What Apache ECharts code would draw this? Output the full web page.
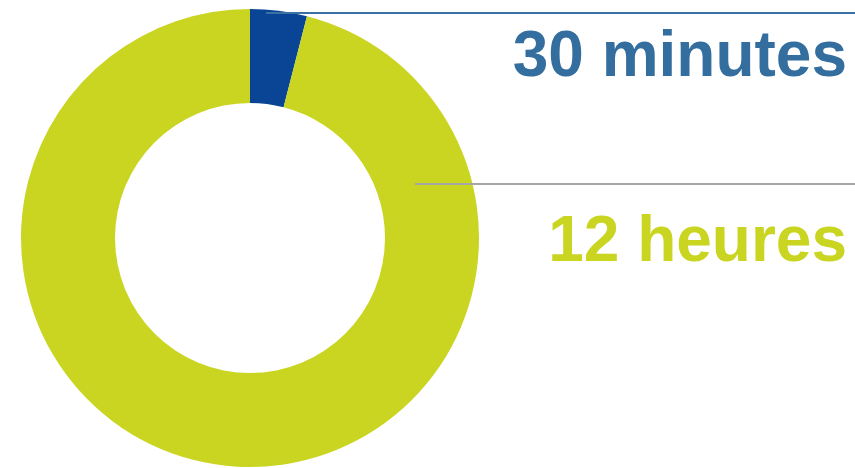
<!DOCTYPE html>
<html>
<head>
<meta charset="utf-8">
<style>
  html, body { margin: 0; padding: 0; background: #ffffff; }
  #chart { width: 855px; height: 468px; }
</style>
<script src="https://cdn.jsdelivr.net/npm/echarts@6/dist/echarts.min.js"></script>
</head>
<body>
<div id="chart"></div>
<script>
// Durations in minutes and their display labels
const labels = ['30 minutes', '12 heures'];
const minutes = [30, 720];
const sliceColors = ['#0a4595', '#c9d521'];
const textColors = ['#336e9f', '#c9d521'];
const leaderColors = ['#3a71a3', '#a6a6a6'];

// Leader lines (drawn above the ring) and label anchors (right-aligned text)
const leaderPaths = [
  [[266, 13], [855, 13]],
  [[415, 184], [855, 184]]
];
const labelAnchors = [[847, 58], [847, 243]];

const chart = echarts.init(document.getElementById('chart'), null, { renderer: 'canvas' });

chart.setOption({
  animation: false,
  graphic: leaderPaths.map(function (pts, i) {
    return {
      type: 'polyline',
      z: 100,
      silent: true,
      shape: { points: pts },
      style: { stroke: leaderColors[i], lineWidth: 2, fill: null }
    };
  }),
  series: [{
    type: 'pie',
    center: [250, 238],
    radius: [135, 229],
    startAngle: 90,
    clockwise: true,
    silent: true,
    avoidLabelOverlap: false,
    itemStyle: { borderWidth: 0 },
    label: {
      show: true,
      position: 'outside',
      fontFamily: 'Liberation Sans, Arial, sans-serif',
      fontWeight: 'bold',
      fontSize: 64,
      formatter: '{b}'
    },
    labelLine: { show: false },
    labelLayout: function (params) {
      const i = params.dataIndex;
      return {
        x: labelAnchors[i][0],
        y: labelAnchors[i][1],
        align: 'right',
        verticalAlign: 'middle'
      };
    },
    data: labels.map(function (name, i) {
      return {
        name: name,
        value: minutes[i],
        itemStyle: { color: sliceColors[i] },
        label: { color: textColors[i] }
      };
    })
  }]
});
</script>
</body>
</html>
